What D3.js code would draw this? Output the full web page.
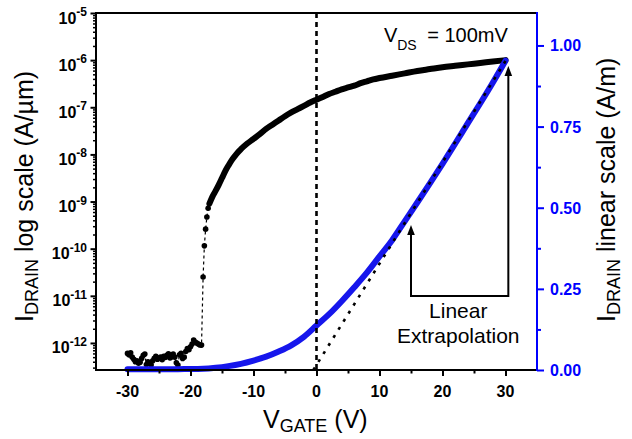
<!DOCTYPE html>
<html>
<head>
<meta charset="utf-8">
<script src="https://cdn.jsdelivr.net/npm/d3@7"></script>
<style>
  html, body { margin: 0; padding: 0; background: #fff; }
  svg { display: block; font-family: "Liberation Sans", Arial, Helvetica, sans-serif; }
</style>
</head>
<body>
<svg id="chart" width="632" height="439"></svg>
<script>
// ---- transfer curve, log scale (A/µm) ----
// off-state noise floor, sampled every 0.25 V
const offGate = [-30, -29.75, -29.5, -29.25, -29, -28.75, -28.5, -28.25, -28, -27.75, -27.5, -27.25,
  -27, -26.75, -26.5, -26.25, -26, -25.75, -25.5, -25.25, -25, -24.75, -24.5, -24.25, -24, -23.75,
  -23.5, -23.25, -23, -22.75, -22.5, -22.25, -22, -21.75, -21.5, -21.25, -21, -20.75, -20.5, -20.25,
  -20, -19.75, -19.5, -19.25, -19, -18.75, -18.5, -18.25];
const offCurrent = [6.0e-13, 5.6e-13, 6.2e-13, 5.0e-13, 4.5e-13, 4.0e-13, 4.2e-13, 3.7e-13, 3.9e-13, 4.7e-13,
  5.5e-13, 5.8e-13, 3.5e-13, 4.0e-13, 3.7e-13, 3.4e-13, 4.2e-13, 4.7e-13, 5.2e-13, 4.5e-13, 4.8e-13,
  5.0e-13, 4.4e-13, 5.2e-13, 4.9e-13, 5.5e-13, 5.9e-13, 4.8e-13, 5.1e-13, 5.8e-13, 5.0e-13, 3.8e-13,
  3.4e-13, 5.6e-13, 6.0e-13, 4.7e-13, 5.0e-13, 6.6e-13, 7.6e-13, 7.2e-13, 8.3e-13, 9.5e-13, 1.15e-12,
  1.05e-12, 1.0e-12, 9.5e-13, 9.1e-13, 9.0e-13];
// turn-on edge
const riseGate = [-18.0, -17.8, -17.6, -17.4, -17.2];
const riseCurrent = [2.5e-11, 1.15e-10, 2.6e-10, 4.7e-10, 7.2e-10];
// on-state branch
const onGate = [-17, -16.5, -16, -15.5, -15, -14.5, -14, -13.5, -13, -12.5, -12, -11, -10, -9, -8, -7,
  -6, -5, -4, -3, -2, -1, 0, 1, 2, 3, 4, 5, 6, 7, 8, 9, 10, 12, 14, 16, 18, 20, 22, 24, 26, 28, 30];
const onCurrent = [9.0e-10, 1.29e-9, 1.70e-9, 2.29e-9, 3.16e-9, 4.37e-9, 5.75e-9, 7.4e-9, 9.1e-9, 1.10e-8,
  1.29e-8, 1.70e-8, 2.14e-8, 2.69e-8, 3.47e-8, 4.27e-8, 5.25e-8, 6.46e-8, 7.76e-8, 9.12e-8, 1.07e-7,
  1.26e-7, 1.45e-7, 1.66e-7, 1.91e-7, 2.14e-7, 2.40e-7, 2.63e-7, 2.88e-7, 3.24e-7, 3.55e-7, 3.89e-7,
  4.17e-7, 4.68e-7, 5.25e-7, 5.89e-7, 6.46e-7, 7.08e-7, 7.59e-7, 8.13e-7, 8.71e-7, 9.33e-7, 1.0e-6];

// ---- transfer curve, linear scale (A/m) ----
const linGate = [-30, -27, -24, -21, -18, -16, -14, -12, -10, -8, -6, -4, -2, 0, 2, 4, 6, 8, 10,
  12, 14, 16, 18, 20, 22, 24, 26, 28, 30];
const linCurrent = [0.002, 0.002, 0.002, 0.003, 0.004, 0.007, 0.012, 0.019, 0.029, 0.041, 0.057, 0.076,
  0.102, 0.137, 0.172, 0.212, 0.255, 0.300, 0.350, 0.400, 0.458, 0.516, 0.575, 0.635, 0.697, 0.760,
  0.822, 0.886, 0.953];

// linear extrapolation of the above-threshold region
const extrapGate = [-0.5, 30];
const extrapCurrent = [0, 0.952];

// axes
const gateRange = [-35, 35];
const logRange = [2.67e-13, 1e-5];
const linRange = [0, 1.1];
const gateTicks = [-30, -20, -10, 0, 10, 20, 30];
const gateMinorTicks = [-25, -15, -5, 5, 15, 25];
const logDecades = [-12, -11, -10, -9, -8, -7, -6, -5];
const linTicks = [0, 0.25, 0.5, 0.75, 1.0];
const linTickLabels = ["0.00", "0.25", "0.50", "0.75", "1.00"];
const linMinorTicks = [0.125, 0.375, 0.625, 0.875];

const BLUE = "#0000ff";
const CURVE_BLUE = "#1616ec";

const svg = d3.select("#chart");
const plotL = 96, plotR = 537, plotT = 13, plotB = 370;

const x = d3.scaleLinear().domain(gateRange).range([plotL, plotR]);
const yLog = d3.scaleLog().domain(logRange).range([plotB, plotT]);
const yLin = d3.scaleLinear().domain(linRange).range([plotB, plotT]);

const zip = (a, b) => a.map((v, i) => [v, b[i]]);
const offPts = zip(offGate, offCurrent);
const risePts = zip(riseGate, riseCurrent);
const onPts = zip(onGate, onCurrent);
const allLogPts = offPts.concat(risePts, onPts);
const linPts = zip(linGate, linCurrent);

const lineLog = d3.line().x(d => x(d[0])).y(d => yLog(d[1]));
const lineLin = d3.line().x(d => x(d[0])).y(d => yLin(d[1]));

// thin connector through every log sample
svg.append("path").datum(allLogPts)
  .attr("d", lineLog)
  .attr("fill", "none").attr("stroke", "#000")
  .attr("stroke-width", 1.2).attr("stroke-dasharray", "3,3");

// dense on-state samples merge into a thick trace
svg.append("path").datum(onPts)
  .attr("d", lineLog.curve(d3.curveMonotoneX))
  .attr("fill", "none").attr("stroke", "#000")
  .attr("stroke-width", 6).attr("stroke-linecap", "round");

// individual symbols where the samples are spread out
svg.append("g").selectAll("circle").data(offPts.concat(risePts)).join("circle")
  .attr("cx", d => x(d[0])).attr("cy", d => yLog(d[1]))
  .attr("r", 2.8).attr("fill", "#000");

// linear-scale trace
svg.append("path").datum(linPts)
  .attr("d", lineLin.curve(d3.curveMonotoneX))
  .attr("fill", "none").attr("stroke", CURVE_BLUE)
  .attr("stroke-width", 6).attr("stroke-linecap", "round");

// extrapolation line
svg.append("path").datum(zip(extrapGate, extrapCurrent))
  .attr("d", d3.line().x(d => x(d[0])).y(d => yLin(d[1])))
  .attr("fill", "none").attr("stroke", "#000")
  .attr("stroke-width", 2.6).attr("stroke-dasharray", "3,6.5");

// V_GATE = 0 marker
svg.append("line")
  .attr("x1", x(0)).attr("x2", x(0))
  .attr("y1", yLin(linRange[1])).attr("y2", yLin(0))
  .attr("stroke", "#000").attr("stroke-width", 2.6).attr("stroke-dasharray", "5,4");

// ---- annotation: bracket with arrows ----
const arrowA = { gate: 15, tip: 0.447 };
const arrowB = { gate: 30.45, tip: 0.937 };
const bracketLow = 0.228;
svg.append("path")
  .attr("d", `M${x(arrowA.gate)},${yLin(arrowA.tip) + 8} L${x(arrowA.gate)},${yLin(bracketLow)}
              L${x(arrowB.gate)},${yLin(bracketLow)} L${x(arrowB.gate)},${yLin(arrowB.tip) + 8}`)
  .attr("fill", "none").attr("stroke", "#000").attr("stroke-width", 2);
[arrowA, arrowB].forEach(a => {
  const ax = x(a.gate), ay = yLin(a.tip);
  svg.append("path")
    .attr("d", `M${ax},${ay} L${ax - 3.8},${ay + 10} L${ax + 3.8},${ay + 10} Z`)
    .attr("fill", "#000");
});

const note = svg.append("g").attr("font-size", 21).attr("fill", "#000").attr("text-anchor", "middle");
note.append("text").attr("x", x(22.5)).attr("y", yLin(0.160)).text("Linear");
note.append("text").attr("x", x(22.5)).attr("y", yLin(0.083)).text("Extrapolation");

// bias condition
const vds = svg.append("text").attr("x", x(10.7)).attr("y", yLin(1.012)).attr("font-size", 20).attr("fill", "#000");
vds.append("tspan").text("V");
vds.append("tspan").attr("font-size", 14).attr("dy", 8).text("DS");
vds.append("tspan").attr("dy", -8).attr("dx", 5).text(" = 100mV");

// ---- axes ----
function styleAxis(g, color, width) {
  g.select(".domain").remove();
  g.selectAll(".tick line").attr("stroke", color).attr("stroke-width", width);
  g.selectAll(".tick text").remove();
}

// bottom
svg.append("g").attr("transform", `translate(0,${plotB})`)
  .call(d3.axisBottom(x).tickValues(gateTicks).tickSize(6).tickFormat(""))
  .call(g => styleAxis(g, "#000", 2));
svg.append("g").attr("transform", `translate(0,${plotB})`)
  .call(d3.axisBottom(x).tickValues(gateMinorTicks).tickSize(3.5).tickFormat(""))
  .call(g => styleAxis(g, "#000", 2));
svg.append("g").attr("font-size", 16).attr("font-weight", "bold").attr("text-anchor", "middle")
  .selectAll("text").data(gateTicks).join("text")
  .attr("x", d => x(d)).attr("y", plotB + 27).text(d => String(d));

// left (log)
const logMinor = [];
for (let e = -13; e < -5; e++) for (let m = 2; m <= 9; m++) {
  const v = m * Math.pow(10, e);
  if (v >= logRange[0] && v <= logRange[1]) logMinor.push(v);
}
svg.append("g").attr("transform", `translate(${plotL},0)`)
  .call(d3.axisLeft(yLog).tickValues(logDecades.map(e => Math.pow(10, e))).tickSize(5.5).tickFormat(""))
  .call(g => styleAxis(g, "#000", 2));
svg.append("g").attr("transform", `translate(${plotL},0)`)
  .call(d3.axisLeft(yLog).tickValues(logMinor).tickSize(3).tickFormat(""))
  .call(g => styleAxis(g, "#000", 1.5));
const logLabels = svg.append("g").attr("font-weight", "bold").attr("text-anchor", "end")
  .selectAll("text").data(logDecades).join("text")
  .attr("x", plotL - 9).attr("y", d => yLog(Math.pow(10, d)) + 10.5).attr("font-size", 16);
logLabels.append("tspan").text("10");
logLabels.append("tspan").attr("font-size", 12).attr("dy", -7.5).text(d => String(d));

// right (linear)
svg.append("g").attr("transform", `translate(${plotR},0)`)
  .call(d3.axisRight(yLin).tickValues(linTicks).tickSize(7).tickFormat(""))
  .call(g => styleAxis(g, BLUE, 2));
svg.append("g").attr("transform", `translate(${plotR},0)`)
  .call(d3.axisRight(yLin).tickValues(linMinorTicks).tickSize(4).tickFormat(""))
  .call(g => styleAxis(g, BLUE, 2));
svg.append("g").attr("font-size", 16).attr("font-weight", "bold").attr("fill", BLUE)
  .selectAll("text").data(linTicks).join("text")
  .attr("x", plotR + 13).attr("y", d => yLin(d) + 6)
  .text((d, i) => linTickLabels[i]);

// frame lines
svg.append("line").attr("x1", plotL).attr("x2", plotR).attr("y1", plotT).attr("y2", plotT)
  .attr("stroke", "#000").attr("stroke-width", 2);
svg.append("line").attr("x1", plotL).attr("x2", plotR).attr("y1", plotB).attr("y2", plotB)
  .attr("stroke", "#000").attr("stroke-width", 2).attr("stroke-linecap", "square");
svg.append("line").attr("x1", plotL).attr("x2", plotL).attr("y1", plotT - 1).attr("y2", plotB)
  .attr("stroke", "#000").attr("stroke-width", 2);
svg.append("line").attr("x1", plotR).attr("x2", plotR).attr("y1", plotT - 1).attr("y2", plotB + 1)
  .attr("stroke", BLUE).attr("stroke-width", 2);

// ---- axis titles ----
const xTitle = svg.append("text").attr("x", 263).attr("y", 428).attr("font-size", 25);
xTitle.append("tspan").text("V");
xTitle.append("tspan").attr("font-size", 18).attr("dy", 4).text("GATE");
xTitle.append("tspan").attr("dy", -4).text(" (V)");

const yTitleL = svg.append("text").attr("transform", "translate(33,322) rotate(-90)").attr("font-size", 25);
yTitleL.append("tspan").text("I");
yTitleL.append("tspan").attr("font-size", 18).attr("dy", 5).text("DRAIN");
yTitleL.append("tspan").attr("dy", -5).text(" log scale (A/µm)");

const yTitleR = svg.append("text").attr("transform", "translate(615,322) rotate(-90)").attr("font-size", 25);
yTitleR.append("tspan").text("I");
yTitleR.append("tspan").attr("font-size", 18).attr("dy", 5).text("DRAIN");
yTitleR.append("tspan").attr("dy", -5).text(" linear scale (A/m)");
</script>
</body>
</html>
